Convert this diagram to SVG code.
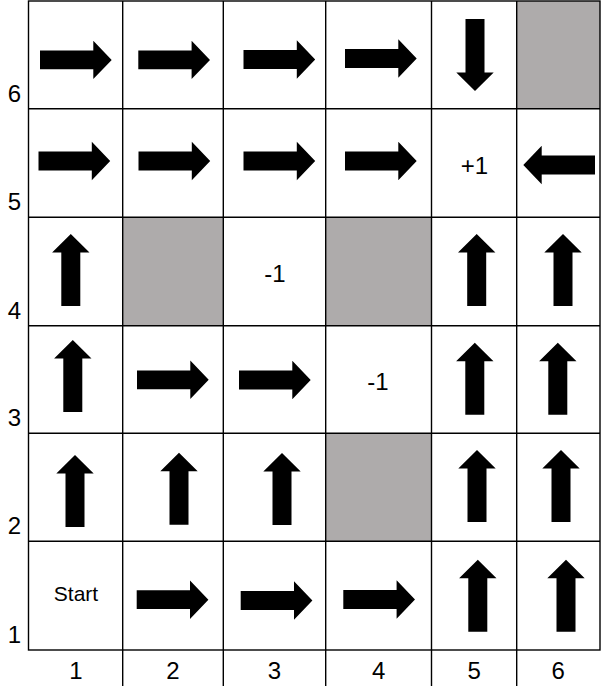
<svg xmlns="http://www.w3.org/2000/svg" xmlns:xlink="http://www.w3.org/1999/xlink" width="602" height="689" viewBox="0 0 602 689">
<style>
.bg{fill:#ffffff}
.wall{fill:#AEABAB}
.grid{stroke:#000;stroke-width:1.4;fill:none}
.arrow{fill:#000}
.lbl{font-family:"Liberation Sans",Arial,sans-serif;font-size:24px;fill:#000;text-anchor:middle}
.val{font-family:"Liberation Sans",Arial,sans-serif;font-size:24px;fill:#000;text-anchor:middle}
.start{font-family:"Liberation Sans",Arial,sans-serif;font-size:21px;fill:#000;text-anchor:middle}
</style>
<defs>
<path id="ar" class="arrow" d="M0,-9.4 H53.3 V-19.2 L71.7,0 L53.3,19.2 V9.4 H0 Z"/>
<path id="au" class="arrow" d="M-9.5,0 V-53.5 H-18.7 L0,-72 L18.7,-53.5 H9.5 V0 Z"/>
</defs>
<rect class="bg" x="0" y="0" width="602" height="689"/>
<g id="walls">
<rect class="wall" x="516.7" y="1" width="83.3" height="107.7"/>
<rect class="wall" x="122.7" y="217.3" width="100.6" height="108.4"/>
<rect class="wall" x="325.7" y="217.3" width="105.8" height="108.4"/>
<rect class="wall" x="325.7" y="433.3" width="105.8" height="108"/>
</g>
<g id="grid" class="grid">
<rect x="28.5" y="1" width="571.5" height="649"/>
<path d="M28.5,108.7 H600 M28.5,217.3 H600 M28.5,325.7 H600 M28.5,433.3 H600 M28.5,541.3 H600"/>
<path d="M122.7,1 V686 M223.3,1 V686 M325.7,1 V686 M431.5,1 V686 M516.7,1 V686"/>
</g>
<g id="row6">
<use href="#ar" x="40" y="59.9"/>
<use href="#ar" x="138.3" y="59.9"/>
<use href="#ar" x="243.5" y="59.5"/>
<use href="#ar" x="345" y="58.5"/>
<use href="#au" transform="translate(475,19) rotate(180)"/>
</g>
<g id="row5">
<use href="#ar" x="38.5" y="161"/>
<use href="#ar" x="138.5" y="161"/>
<use href="#ar" x="243.5" y="161"/>
<use href="#ar" x="345" y="161"/>
<text class="val" x="474.5" y="174">+1</text>
<use href="#ar" transform="translate(595,165) scale(-1,1)"/>
</g>
<g id="row4">
<use href="#au" x="70.8" y="306"/>
<text class="val" x="275" y="281.5">-1</text>
<use href="#au" x="476.7" y="306"/>
<use href="#au" x="563" y="306"/>
</g>
<g id="row3">
<use href="#au" x="72.8" y="412"/>
<use href="#ar" x="137" y="379.8"/>
<use href="#ar" x="239" y="380"/>
<text class="val" x="378" y="390">-1</text>
<use href="#au" x="474.8" y="414.7"/>
<use href="#au" x="557.8" y="414.7"/>
</g>
<g id="row2">
<use href="#au" x="75" y="527"/>
<use href="#au" x="179" y="524.7"/>
<use href="#au" x="282" y="525"/>
<use href="#au" x="477" y="522"/>
<use href="#au" x="561" y="522"/>
</g>
<g id="row1">
<text class="start" x="76" y="601">Start</text>
<use href="#ar" x="136.7" y="599.7"/>
<use href="#ar" x="240.7" y="600.5"/>
<use href="#ar" x="343.3" y="599.5"/>
<use href="#au" x="477.8" y="631.7"/>
<use href="#au" x="566" y="631.7"/>
</g>
<g id="row-labels">
<text class="lbl" x="14.5" y="101.5">6</text>
<text class="lbl" x="14.5" y="210">5</text>
<text class="lbl" x="14.5" y="318.5">4</text>
<text class="lbl" x="14.5" y="426">3</text>
<text class="lbl" x="14.5" y="534">2</text>
<text class="lbl" x="14.5" y="642.5">1</text>
</g>
<g id="col-labels">
<text class="lbl" x="76" y="678.5">1</text>
<text class="lbl" x="173" y="678.5">2</text>
<text class="lbl" x="274.5" y="678.5">3</text>
<text class="lbl" x="378.6" y="678.5">4</text>
<text class="lbl" x="474.1" y="678.5">5</text>
<text class="lbl" x="558.3" y="678.5">6</text>
</g>
</svg>
